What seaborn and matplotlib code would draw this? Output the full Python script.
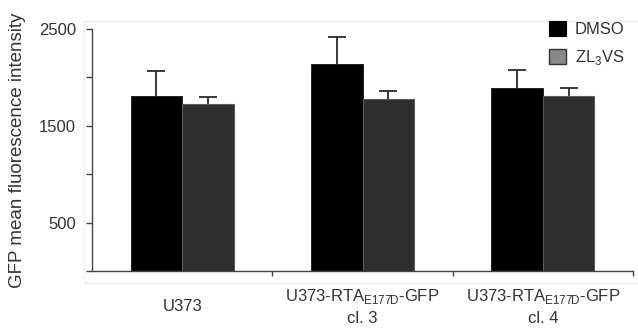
import matplotlib
matplotlib.use("Agg")
import matplotlib.pyplot as plt
import matplotlib.patches as mpatches
import seaborn as sns
import pandas as pd
import numpy as np

groups = ["U373",
          "U373-RTA$_{\\mathregular{E177D}}$-GFP\ncl. 3",
          "U373-RTA$_{\\mathregular{E177D}}$-GFP\ncl. 4"]
treatments = ["DMSO", "ZL$_{\\mathregular{3}}$VS"]
dmso_mean = [1807, 2137, 1886]
dmso_err = [258, 277, 190]
zl_mean = [1721, 1779, 1807]
zl_err = [79, 83, 82]
y_ticks = [0, 500, 1000, 1500, 2000, 2500]
y_ticklabels = ["", "500", "", "1500", "", "2500"]

sns.set_theme(style="white")
plt.rcParams["font.family"] = ["Liberation Sans", "DejaVu Sans"]
plt.rcParams["mathtext.fontset"] = "custom"
plt.rcParams["mathtext.rm"] = "Liberation Sans"

df = pd.DataFrame({
    "group": groups * 2,
    "treatment": [treatments[0]] * 3 + [treatments[1]] * 3,
    "value": dmso_mean + zl_mean,
})

W, H = 638, 333
fig = plt.figure(figsize=(W / 100, H / 100), dpi=100)
ax = fig.add_axes([92 / W, 1 - 271 / H, (633 - 92) / W, (271 - 29) / H])

# faint frame
fig.patches.append(mpatches.Rectangle((84 / W, 1 - 283 / H), (700 - 84) / W, (283 - 20.5) / H,
                                      transform=fig.transFigure, fill=False,
                                      edgecolor="#eeeeee", linewidth=1.0, zorder=0))

sns.barplot(data=df, x="group", y="value", hue="treatment", order=groups,
            hue_order=treatments, palette=["#000000", "#2e2e2e"],
            width=0.57, gap=0, errorbar=None, ax=ax, legend=False,
            saturation=1)

bars = ax.patches
for i, p in enumerate(bars):
    p.set_zorder(2)
    if i >= 3:
        p.set_edgecolor("#5a5a5a")
        p.set_linewidth(0.8)
    else:
        p.set_edgecolor("#000000")
        p.set_linewidth(0.5)

errs = dmso_err + zl_err
means = dmso_mean + zl_mean
xs = [p.get_x() + p.get_width() / 2 for p in bars[:6]]
eb = ax.errorbar(xs, means, yerr=[np.zeros(6), errs], fmt="none", ecolor="#2a2a2a",
                 elinewidth=1.3, capsize=6.2, capthick=1.3, zorder=1)
# hide the caps sitting at the bar tops (lower side of one-sided error)
for cl in eb[1]:
    yd = np.asarray(cl.get_ydata(), dtype=float)
    if np.allclose(yd, means):
        cl.set_visible(False)

ax.set_xlim(-0.5, 2.5)
ax.set_ylim(0, 2500)
ax.set_yticks(y_ticks)
ax.set_yticklabels(y_ticklabels)
ax.set_xticks([0, 1, 2])
ax.set_xticklabels(groups, linespacing=1.45)
ax.set_xticks([0.5, 1.5, 2.5], minor=True)
ax.set_xlabel("")

for s in ["top", "right"]:
    ax.spines[s].set_visible(False)
for s in ["left", "bottom"]:
    ax.spines[s].set_color("#444444")
    ax.spines[s].set_linewidth(1.0)
    ax.spines[s].set_zorder(3)

ax.tick_params(axis="y", direction="out", length=4, width=1.0, color="#444444",
               pad=7.5, labelsize=12, labelcolor="#333333", left=True)
ax.tick_params(axis="x", which="major", length=0, pad=25.5, labelsize=12,
               labelcolor="#333333")
ax.tick_params(axis="x", which="minor", direction="out", length=3.8, width=1.0,
               color="#444444", bottom=True)
for lab in ax.get_xticklabels():
    lab.set_va("center")

ax.set_ylabel("GFP mean fluorescence intensity", fontsize=13.5, color="#333333")
ax.yaxis.label.set_va("center")
ax.yaxis.set_label_coords((18 - 92) / (633 - 92), 0.5)

handles = [mpatches.Patch(facecolor="#000000", edgecolor="#000000", linewidth=0.8),
           mpatches.Patch(facecolor="#888888", edgecolor="#333333", linewidth=1.0)]
leg = fig.legend(handles, treatments, loc="upper left",
                 bbox_to_anchor=(549 / W, 1 - 21 / H), bbox_transform=fig.transFigure,
                 frameon=False, fontsize=12, handlelength=1.0, handleheight=1.0,
                 handletextpad=0.55, labelspacing=0.67, borderpad=0, borderaxespad=0)
for t in leg.get_texts():
    t.set_color("#333333")

fig.savefig("out.png", dpi=100)
